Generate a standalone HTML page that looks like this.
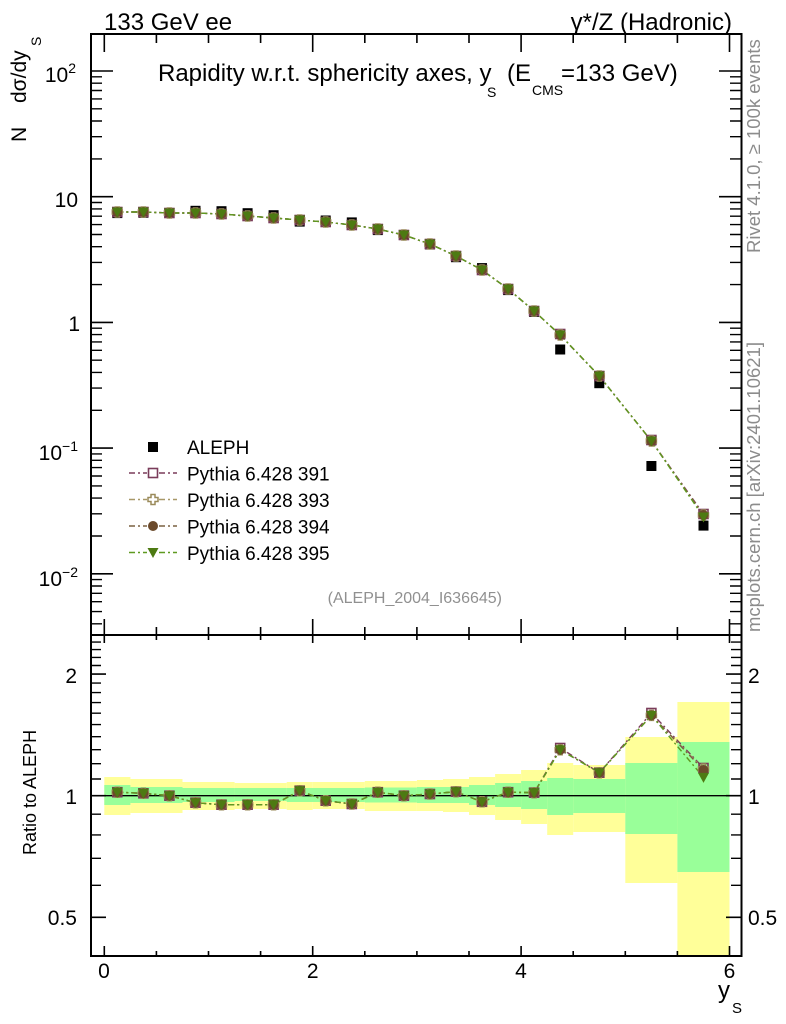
<!DOCTYPE html>
<html>
<head>
<meta charset="utf-8">
<style>
html,body{margin:0;padding:0;background:#fff;}
svg{display:block;font-family:"Liberation Sans",Arial,sans-serif;}
</style>
</head>
<body>
<svg width="786" height="1024" viewBox="0 0 786 1024" xmlns="http://www.w3.org/2000/svg">
<defs>
  <rect id="mD" x="-5" y="-5" width="10" height="10" fill="#000"/>
  <rect id="m391" x="-4.5" y="-4.5" width="9" height="9" fill="none" stroke="#7a3c5a" stroke-width="1.6"/>
  <path id="m393" d="M-2,-5H2V-2H5V2H2V5H-2V2H-5V-2H-2Z" fill="none" stroke="#9a8a5a" stroke-width="1.5"/>
  <circle id="m394" r="5" fill="#6b4a2b"/>
  <polygon id="m395" points="-5.5,-4.5 5.5,-4.5 0,5.5" fill="#4d7a12"/>
  <path id="lmaj" d="M91,71h22M91,196.7h22M91,322.4h22M91,448.1h22M91,573.8h22" stroke="#000" stroke-width="1.6" fill="none"/>
  <path id="lmin" d="M91,76.8h11M91,83.2h11M91,90.5h11M91,98.9h11M91,108.8h11M91,121h11M91,136.7h11M91,158.9h11M91,202.5h11M91,208.9h11M91,216.2h11M91,224.6h11M91,234.5h11M91,246.7h11M91,262.4h11M91,284.6h11M91,328.2h11M91,334.6h11M91,341.9h11M91,350.3h11M91,360.2h11M91,372.4h11M91,388.1h11M91,410.3h11M91,453.9h11M91,460.3h11M91,467.6h11M91,476h11M91,485.9h11M91,498.1h11M91,513.8h11M91,536h11M91,579.6h11M91,586h11M91,593.3h11M91,601.7h11M91,611.6h11M91,623.8h11" stroke="#000" stroke-width="1.4" fill="none"/>
  <path id="rmaj" d="M91,674.1h15M91,795.7h15M91,917.3h15" stroke="#000" stroke-width="1.6" fill="none"/>
  <path id="rmin" d="M91,885.3h10M91,858.3h10M91,834.9h10M91,814.2h10M91,779h10M91,763.7h10M91,749.7h10M91,736.7h10M91,724.6h10M91,713.2h10M91,702.6h10M91,692.6h10M91,683.1h10M91,665.5h10M91,657.4h10M91,649.6h10M91,642.1h10" stroke="#000" stroke-width="1.4" fill="none"/>
</defs>

<!-- Ratio bands -->
<g fill="#ffff99">
  <rect x="104.3" y="777" width="26.1" height="38"/>
  <rect x="130.4" y="779" width="52.1" height="34"/>
  <rect x="182.5" y="782" width="52.1" height="28"/>
  <rect x="234.6" y="783" width="52.1" height="26"/>
  <rect x="286.7" y="782" width="26" height="28"/>
  <rect x="312.7" y="782" width="52.1" height="27"/>
  <rect x="364.8" y="781" width="52.1" height="30"/>
  <rect x="416.9" y="780" width="26.1" height="31"/>
  <rect x="443" y="779" width="26" height="33"/>
  <rect x="469" y="777" width="26.1" height="38"/>
  <rect x="495.1" y="774" width="26" height="46"/>
  <rect x="521.1" y="770" width="26.1" height="54"/>
  <rect x="547.2" y="763" width="26" height="72"/>
  <rect x="573.2" y="765" width="52.1" height="67"/>
  <rect x="625.3" y="737" width="52.1" height="146"/>
  <rect x="677.4" y="702" width="52.1" height="254"/>
</g>
<g fill="#99ff99">
  <rect x="104.3" y="785" width="26.1" height="20"/>
  <rect x="130.4" y="787" width="52.1" height="16"/>
  <rect x="182.5" y="788" width="52.1" height="14"/>
  <rect x="234.6" y="788" width="52.1" height="13"/>
  <rect x="286.7" y="788" width="78.1" height="14"/>
  <rect x="364.8" y="787.5" width="52.1" height="15"/>
  <rect x="416.9" y="787" width="52.1" height="16"/>
  <rect x="469" y="785" width="26.1" height="20"/>
  <rect x="495.1" y="783" width="26" height="24"/>
  <rect x="521.1" y="781" width="26.1" height="28"/>
  <rect x="547.2" y="778" width="26" height="37"/>
  <rect x="573.2" y="779" width="52.1" height="34"/>
  <rect x="625.3" y="763" width="52.1" height="71"/>
  <rect x="677.4" y="742" width="52.1" height="130"/>
</g>
<line x1="91" y1="795.7" x2="741" y2="795.7" stroke="#000" stroke-width="1.3"/>

<!-- Main plot lines -->
<g fill="none" stroke-width="1.4" stroke-dasharray="6,3,2,3">
  <polyline stroke="#7a3c5a" points="117.3,212 143.4,212 169.4,213 195.5,213 221.5,214 247.6,216 273.6,218 299.7,220 325.7,222 351.8,225 377.8,229 403.9,235 429.9,244 456,256 482,270 508.1,289 534.1,311 560.2,335 599.3,376 651.4,441 703.5,514"/>
  <polyline stroke="#a89868" points="117.3,212 143.4,212 169.4,213 195.5,213 221.5,214 247.6,216 273.6,218 299.7,220 325.7,222 351.8,225 377.8,229 403.9,235 429.9,244 456,256 482,270 508.1,289 534.1,311 560.2,335 599.3,376 651.4,441 703.5,515"/>
  <polyline stroke="#7a6040" points="117.3,212 143.4,212 169.4,213 195.5,213 221.5,214 247.6,216 273.6,218 299.7,220 325.7,222 351.8,225 377.8,229 403.9,235 429.9,244 456,256 482,270 508.1,289 534.1,311 560.2,335 599.3,376 651.4,441 703.5,515"/>
  <polyline stroke="#5f9a20" points="117.3,212 143.4,212 169.4,213 195.5,213 221.5,214 247.6,216 273.6,218 299.7,220 325.7,222 351.8,225 377.8,229 403.9,235 429.9,244 456,256 482,270 508.1,289 534.1,311 560.2,335 599.3,376 651.4,441 703.5,517"/>
</g>

<!-- Ratio lines -->
<g fill="none" stroke-width="1.4" stroke-dasharray="6,3,2,3">
  <polyline stroke="#7a3c5a" points="117.3,792.2 143.4,793.3 169.4,795.7 195.5,802.7 221.5,804.7 247.6,804.7 273.6,804.7 299.7,790.7 325.7,800.7 351.8,804 377.8,792.2 403.9,795.7 429.9,794 456,791.7 482,801.8 508.1,792.2 534.1,792.7 560.2,748 599.3,772.7 651.4,713 703.5,768"/>
  <polyline stroke="#a89868" points="117.3,792.2 143.4,793.3 169.4,795.7 195.5,802.7 221.5,804.7 247.6,804.7 273.6,804.7 299.7,790.7 325.7,800.7 351.8,804 377.8,792.2 403.9,795.7 429.9,794 456,791.7 482,801.8 508.1,792.2 534.1,792.7 560.2,749.7 599.3,772.7 651.4,715.4 703.5,769"/>
  <polyline stroke="#7a6040" points="117.3,792.2 143.4,793.3 169.4,795.7 195.5,802.7 221.5,804.7 247.6,804.7 273.6,804.7 299.7,790.7 325.7,800.7 351.8,804 377.8,792.2 403.9,795.7 429.9,794 456,791.7 482,801.8 508.1,792.2 534.1,792.7 560.2,749.7 599.3,772.7 651.4,715.4 703.5,770"/>
  <polyline stroke="#5f9a20" points="117.3,792.2 143.4,793.3 169.4,795.7 195.5,802.7 221.5,804.7 247.6,804.7 273.6,804.7 299.7,790.7 325.7,800.7 351.8,804 377.8,792.2 403.9,795.7 429.9,794 456,791.7 482,801.8 508.1,792.2 534.1,792.7 560.2,749.7 599.3,772.7 651.4,715.4 703.5,777.4"/>
</g>

<!-- ALEPH data (main) -->
<g>
  <use href="#mD" x="117.3" y="213.1"/><use href="#mD" x="143.4" y="212.8"/><use href="#mD" x="169.4" y="213"/>
  <use href="#mD" x="195.5" y="210.8"/><use href="#mD" x="221.5" y="211.2"/><use href="#mD" x="247.6" y="213.2"/>
  <use href="#mD" x="273.6" y="215.2"/><use href="#mD" x="299.7" y="221.6"/><use href="#mD" x="325.7" y="220.5"/>
  <use href="#mD" x="351.8" y="222.4"/><use href="#mD" x="377.8" y="230.1"/><use href="#mD" x="403.9" y="235"/>
  <use href="#mD" x="429.9" y="244.5"/><use href="#mD" x="456" y="257.2"/><use href="#mD" x="482" y="268.1"/>
  <use href="#mD" x="508.1" y="290.1"/><use href="#mD" x="534.1" y="311.9"/><use href="#mD" x="560.2" y="349.5"/>
  <use href="#mD" x="599.3" y="383.2"/><use href="#mD" x="651.4" y="466"/><use href="#mD" x="703.5" y="525.6"/>
</g>

<!-- MC markers main -->
<g>
  <use href="#m391" x="117.3" y="212"/><use href="#m391" x="143.4" y="212"/><use href="#m391" x="169.4" y="213"/><use href="#m391" x="195.5" y="213"/><use href="#m391" x="221.5" y="214"/><use href="#m391" x="247.6" y="216"/><use href="#m391" x="273.6" y="218"/><use href="#m391" x="299.7" y="220"/><use href="#m391" x="325.7" y="222"/><use href="#m391" x="351.8" y="225"/><use href="#m391" x="377.8" y="229"/><use href="#m391" x="403.9" y="235"/><use href="#m391" x="429.9" y="244"/><use href="#m391" x="456" y="256"/><use href="#m391" x="482" y="270"/><use href="#m391" x="508.1" y="289"/><use href="#m391" x="534.1" y="311"/><use href="#m391" x="560.2" y="334"/><use href="#m391" x="599.3" y="376"/><use href="#m391" x="651.4" y="440"/><use href="#m391" x="703.5" y="514"/>
  <use href="#m393" x="117.3" y="212"/><use href="#m393" x="143.4" y="212"/><use href="#m393" x="169.4" y="213"/><use href="#m393" x="195.5" y="213"/><use href="#m393" x="221.5" y="214"/><use href="#m393" x="247.6" y="216"/><use href="#m393" x="273.6" y="218"/><use href="#m393" x="299.7" y="220"/><use href="#m393" x="325.7" y="222"/><use href="#m393" x="351.8" y="225"/><use href="#m393" x="377.8" y="229"/><use href="#m393" x="403.9" y="235"/><use href="#m393" x="429.9" y="244"/><use href="#m393" x="456" y="256"/><use href="#m393" x="482" y="270"/><use href="#m393" x="508.1" y="289"/><use href="#m393" x="534.1" y="311"/><use href="#m393" x="560.2" y="335"/><use href="#m393" x="599.3" y="376"/><use href="#m393" x="651.4" y="441"/><use href="#m393" x="703.5" y="515"/>
  <use href="#m394" x="117.3" y="212"/><use href="#m394" x="143.4" y="212"/><use href="#m394" x="169.4" y="213"/><use href="#m394" x="195.5" y="213"/><use href="#m394" x="221.5" y="214"/><use href="#m394" x="247.6" y="216"/><use href="#m394" x="273.6" y="218"/><use href="#m394" x="299.7" y="220"/><use href="#m394" x="325.7" y="222"/><use href="#m394" x="351.8" y="225"/><use href="#m394" x="377.8" y="229"/><use href="#m394" x="403.9" y="235"/><use href="#m394" x="429.9" y="244"/><use href="#m394" x="456" y="256"/><use href="#m394" x="482" y="270"/><use href="#m394" x="508.1" y="289"/><use href="#m394" x="534.1" y="311"/><use href="#m394" x="560.2" y="335"/><use href="#m394" x="599.3" y="376"/><use href="#m394" x="651.4" y="441"/><use href="#m394" x="703.5" y="515"/>
  <use href="#m395" x="117.3" y="212"/><use href="#m395" x="143.4" y="212"/><use href="#m395" x="169.4" y="213"/><use href="#m395" x="195.5" y="213"/><use href="#m395" x="221.5" y="214"/><use href="#m395" x="247.6" y="216"/><use href="#m395" x="273.6" y="218"/><use href="#m395" x="299.7" y="220"/><use href="#m395" x="325.7" y="222"/><use href="#m395" x="351.8" y="225"/><use href="#m395" x="377.8" y="229"/><use href="#m395" x="403.9" y="235"/><use href="#m395" x="429.9" y="244"/><use href="#m395" x="456" y="256"/><use href="#m395" x="482" y="270"/><use href="#m395" x="508.1" y="289"/><use href="#m395" x="534.1" y="311"/><use href="#m395" x="560.2" y="335"/><use href="#m395" x="599.3" y="376"/><use href="#m395" x="651.4" y="441"/><use href="#m395" x="703.5" y="517"/>
</g>

<!-- MC markers ratio -->
<g>
  <use href="#m391" x="117.3" y="792.2"/><use href="#m391" x="143.4" y="793.3"/><use href="#m391" x="169.4" y="795.7"/><use href="#m391" x="195.5" y="802.7"/><use href="#m391" x="221.5" y="804.7"/><use href="#m391" x="247.6" y="804.7"/><use href="#m391" x="273.6" y="804.7"/><use href="#m391" x="299.7" y="790.7"/><use href="#m391" x="325.7" y="800.7"/><use href="#m391" x="351.8" y="804"/><use href="#m391" x="377.8" y="792.2"/><use href="#m391" x="403.9" y="795.7"/><use href="#m391" x="429.9" y="794"/><use href="#m391" x="456" y="791.7"/><use href="#m391" x="482" y="801.8"/><use href="#m391" x="508.1" y="792.2"/><use href="#m391" x="534.1" y="792.7"/><use href="#m391" x="560.2" y="748"/><use href="#m391" x="599.3" y="772.7"/><use href="#m391" x="651.4" y="713"/><use href="#m391" x="703.5" y="768"/>
  <use href="#m393" x="117.3" y="792.2"/><use href="#m393" x="143.4" y="793.3"/><use href="#m393" x="169.4" y="795.7"/><use href="#m393" x="195.5" y="802.7"/><use href="#m393" x="221.5" y="804.7"/><use href="#m393" x="247.6" y="804.7"/><use href="#m393" x="273.6" y="804.7"/><use href="#m393" x="299.7" y="790.7"/><use href="#m393" x="325.7" y="800.7"/><use href="#m393" x="351.8" y="804"/><use href="#m393" x="377.8" y="792.2"/><use href="#m393" x="403.9" y="795.7"/><use href="#m393" x="429.9" y="794"/><use href="#m393" x="456" y="791.7"/><use href="#m393" x="482" y="801.8"/><use href="#m393" x="508.1" y="792.2"/><use href="#m393" x="534.1" y="792.7"/><use href="#m393" x="560.2" y="749.7"/><use href="#m393" x="599.3" y="772.7"/><use href="#m393" x="651.4" y="715.4"/><use href="#m393" x="703.5" y="769"/>
  <use href="#m394" x="117.3" y="792.2"/><use href="#m394" x="143.4" y="793.3"/><use href="#m394" x="169.4" y="795.7"/><use href="#m394" x="195.5" y="802.7"/><use href="#m394" x="221.5" y="804.7"/><use href="#m394" x="247.6" y="804.7"/><use href="#m394" x="273.6" y="804.7"/><use href="#m394" x="299.7" y="790.7"/><use href="#m394" x="325.7" y="800.7"/><use href="#m394" x="351.8" y="804"/><use href="#m394" x="377.8" y="792.2"/><use href="#m394" x="403.9" y="795.7"/><use href="#m394" x="429.9" y="794"/><use href="#m394" x="456" y="791.7"/><use href="#m394" x="482" y="801.8"/><use href="#m394" x="508.1" y="792.2"/><use href="#m394" x="534.1" y="792.7"/><use href="#m394" x="560.2" y="749.7"/><use href="#m394" x="599.3" y="772.7"/><use href="#m394" x="651.4" y="715.4"/><use href="#m394" x="703.5" y="770"/>
  <use href="#m395" x="117.3" y="792.2"/><use href="#m395" x="143.4" y="793.3"/><use href="#m395" x="169.4" y="795.7"/><use href="#m395" x="195.5" y="802.7"/><use href="#m395" x="221.5" y="804.7"/><use href="#m395" x="247.6" y="804.7"/><use href="#m395" x="273.6" y="804.7"/><use href="#m395" x="299.7" y="790.7"/><use href="#m395" x="325.7" y="800.7"/><use href="#m395" x="351.8" y="804"/><use href="#m395" x="377.8" y="792.2"/><use href="#m395" x="403.9" y="795.7"/><use href="#m395" x="429.9" y="794"/><use href="#m395" x="456" y="791.7"/><use href="#m395" x="482" y="801.8"/><use href="#m395" x="508.1" y="792.2"/><use href="#m395" x="534.1" y="792.7"/><use href="#m395" x="560.2" y="749.7"/><use href="#m395" x="599.3" y="772.7"/><use href="#m395" x="651.4" y="715.4"/><use href="#m395" x="703.5" y="777.4"/>
</g>

<!-- Frame -->
<rect x="91" y="34" width="650.5" height="922" fill="none" stroke="#000" stroke-width="2"/>
<line x1="91" y1="635" x2="741.5" y2="635" stroke="#000" stroke-width="2"/>

<!-- Y ticks -->
<use href="#lmaj"/><use href="#lmin"/>
<use href="#lmaj" transform="translate(832,0) scale(-1,1)"/><use href="#lmin" transform="translate(832,0) scale(-1,1)"/>
<use href="#rmaj"/><use href="#rmin"/>
<use href="#rmaj" transform="translate(832,0) scale(-1,1)"/><use href="#rmin" transform="translate(832,0) scale(-1,1)"/>

<!-- X ticks -->
<g stroke="#000" stroke-width="1.6" fill="none">
  <path d="M104.3,34v18M312.7,34v18M521.1,34v18M729.5,34v18"/>
  <path d="M156.4,34v9M208.5,34v9M260.6,34v9M364.8,34v9M416.9,34v9M469,34v9M573.2,34v9M625.3,34v9M677.4,34v9"/>
  <path d="M104.3,635v-16M312.7,635v-16M521.1,635v-16M729.5,635v-16"/>
  <path d="M156.4,635v-8M208.5,635v-8M260.6,635v-8M364.8,635v-8M416.9,635v-8M469,635v-8M573.2,635v-8M625.3,635v-8M677.4,635v-8"/>
  <path d="M104.3,635v8M312.7,635v8M521.1,635v8M729.5,635v8"/>
  <path d="M156.4,635v5M208.5,635v5M260.6,635v5M364.8,635v5M416.9,635v5M469,635v5M573.2,635v5M625.3,635v5M677.4,635v5"/>
  <path d="M104.3,956v-10M312.7,956v-10M521.1,956v-10M729.5,956v-10"/>
  <path d="M156.4,956v-5M208.5,956v-5M260.6,956v-5M364.8,956v-5M416.9,956v-5M469,956v-5M573.2,956v-5M625.3,956v-5M677.4,956v-5"/>
</g>

<!-- Top labels -->
<text x="104" y="30" font-size="24" fill="#000">133 GeV ee</text>
<text x="732" y="30" font-size="24" fill="#000" text-anchor="end">γ*/Z (Hadronic)</text>

<!-- Title -->
<text x="158" y="81" font-size="24" fill="#000">Rapidity w.r.t. sphericity axes, y</text>
<text x="487" y="97" font-size="14" fill="#000">S</text>
<text x="507" y="81" font-size="24" fill="#000">(E</text>
<text x="532" y="95" font-size="14" fill="#000">CMS</text>
<text x="561" y="81" font-size="24" fill="#000">=133 GeV)</text>

<!-- Y axis labels -->
<text transform="translate(26,142) rotate(-90)" font-size="21" fill="#000">N</text>
<text transform="translate(26,103) rotate(-90)" font-size="21" fill="#000">dσ/dy</text>
<text transform="translate(41,46) rotate(-90)" font-size="14" fill="#000">S</text>
<text transform="translate(36,855) rotate(-90)" font-size="18" fill="#000">Ratio to ALEPH</text>

<!-- Main y tick labels -->
<g font-size="21" fill="#000" text-anchor="end">
  <text x="76" y="82">10<tspan font-size="14" dy="-9">2</tspan></text>
  <text x="78" y="207">10</text>
  <text x="80" y="331">1</text>
  <text x="78" y="460">10<tspan font-size="14" dy="-9">−1</tspan></text>
  <text x="78" y="586">10<tspan font-size="14" dy="-9">−2</tspan></text>
</g>

<!-- Ratio y tick labels -->
<g font-size="21" fill="#000">
  <text x="77" y="683" text-anchor="end">2</text>
  <text x="77" y="804" text-anchor="end">1</text>
  <text x="77" y="925" text-anchor="end">0.5</text>
  <text x="748" y="683">2</text>
  <text x="748" y="804">1</text>
  <text x="748" y="925">0.5</text>
</g>

<!-- X tick labels -->
<g font-size="21" fill="#000" text-anchor="middle">
  <text x="104" y="978">0</text>
  <text x="312.7" y="978">2</text>
  <text x="521" y="978">4</text>
  <text x="729.5" y="978">6</text>
</g>
<text x="718" y="998" font-size="24" fill="#000">y</text>
<text x="732" y="1013" font-size="15" fill="#000">S</text>

<!-- Legend -->
<use href="#mD" x="153" y="447"/>
<text x="187" y="454" font-size="19" fill="#000">ALEPH</text>

<g stroke-width="1.4" stroke-dasharray="6,3,2,3" fill="none">
  <path d="M129,473h18M159,473h18" stroke="#7a3c5a"/>
  <path d="M129,499.5h18M159,499.5h18" stroke="#a89868"/>
  <path d="M129,526h18M159,526h18" stroke="#7a6040"/>
  <path d="M129,552.5h18M159,552.5h18" stroke="#5f9a20"/>
</g>
<use href="#m391" x="153" y="473"/>
<use href="#m393" x="153" y="499.5"/>
<use href="#m394" x="153" y="526"/>
<use href="#m395" x="153" y="552.5"/>
<g font-size="19" fill="#000">
  <text x="187" y="480.5">Pythia 6.428 391</text>
  <text x="187" y="507">Pythia 6.428 393</text>
  <text x="187" y="533.5">Pythia 6.428 394</text>
  <text x="187" y="560">Pythia 6.428 395</text>
</g>

<text x="502" y="603" font-size="16" fill="#909090" text-anchor="end">(ALEPH_2004_I636645)</text>

<!-- Right side gray texts -->
<text transform="translate(760,253) rotate(-90)" font-size="18.5" fill="#8c8c8c">Rivet 4.1.0, ≥ 100k events</text>
<text transform="translate(760,632) rotate(-90)" font-size="18.5" fill="#8c8c8c">mcplots.cern.ch [arXiv:2401.10621]</text>
</svg>
</body>
</html>
